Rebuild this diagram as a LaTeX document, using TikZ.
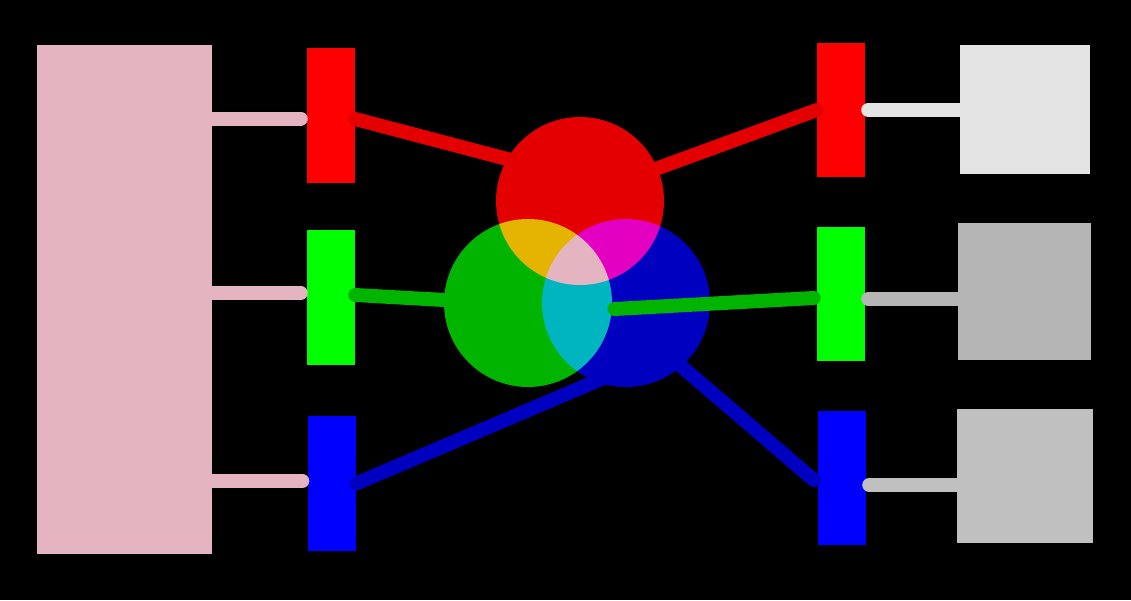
\documentclass[tikz,border=0pt]{standalone}
\usetikzlibrary{calc}
\definecolor{huered}{RGB}{228,0,0}
\definecolor{huegreen}{RGB}{0,180,0}
\definecolor{hueblue}{RGB}{0,0,192}
\definecolor{mixpink}{RGB}{228,180,192}
\definecolor{grayred}{RGB}{228,228,228}
\definecolor{graygreen}{RGB}{181,181,181}
\definecolor{grayblue}{RGB}{192,192,192}
\tikzset{
  slab/.style={
    inner sep=0pt,
    minimum width=48pt,
    minimum height=135pt
  },
  lens/.style={
    circle,
    inner sep=0pt,
    minimum size=168pt
  },
  link/.style={
    line width=14pt,
    line cap=round
  }
}
\begin{document}
\begin{tikzpicture}[x=1pt, y=-1pt]
  \fill[black] (0,0) rectangle (1131,600);
  \useasboundingbox (0,0) rectangle (1131,600);
  \node[fill=mixpink, inner sep=0pt, minimum width=175pt, minimum height=509pt] (source) at (124.5,299.5) {};
  \node[slab, fill=red] (inred) at (331,115.5) {};
  \node[slab, fill=green] (ingreen) at (331,297.5) {};
  \node[slab, fill=blue] (inblue) at (332,483.5) {};
  \node[slab, fill=red, minimum height=134pt] (outred) at (841,110) {};
  \node[slab, fill=green, minimum height=134pt] (outgreen) at (841,294) {};
  \node[slab, fill=blue, minimum height=134pt] (outblue) at (842,478) {};
  \node[fill=grayred, inner sep=0pt, minimum width=130pt, minimum height=129pt] (shadered) at (1025,109.5) {};
  \node[fill=graygreen, inner sep=0pt, minimum width=133pt, minimum height=137pt] (shadegreen) at (1024.5,291.5) {};
  \node[fill=grayblue, inner sep=0pt, minimum width=136pt, minimum height=134pt] (shadeblue) at (1025,476) {};
  \begin{scope}[blend group=lighten]
    \node[lens, fill=huered] (lensred) at (580,201) {};
    \node[lens, fill=huegreen] (lensgreen) at (528,303) {};
    \node[lens, fill=hueblue] (lensblue) at (626,303) {};
  \end{scope}
  \coordinate (rin) at (530,165);
  \coordinate (rout) at (620,182);
  \coordinate (gin) at (480,302);
  \coordinate (gout) at (614.5,309);
  \coordinate (bin) at (606,377);
  \coordinate (bout) at (660,348);
  \coordinate (s1) at ([xshift=-6pt,yshift=-3pt]inred.west);
  \coordinate (s2) at ([xshift=-6pt,yshift=4.5pt]ingreen.west);
  \coordinate (s3) at ([xshift=-5.5pt,yshift=2.5pt]inblue.west);
  \coordinate (t1) at ([xshift=3pt]outred.east);
  \coordinate (t2) at ([xshift=3pt,yshift=-5pt]outgreen.east);
  \coordinate (t3) at ([xshift=3pt,yshift=-7pt]outblue.east);
  \draw[link, mixpink] (s1 -| source.east) -- (s1);
  \draw[link, mixpink] (s2 -| source.east) -- (s2);
  \draw[link, mixpink] (s3 -| source.east) -- (s3);
  \draw[link, huered] ([yshift=-3.5pt]inred.east) -- (rin);
  \draw[link, huered] (rout) -- (outred.west);
  \draw[link, huegreen] ([yshift=2.5pt]ingreen.east) -- (gin);
  \draw[link, huegreen] (gout) -- ([xshift=-3pt,yshift=-4pt]outgreen.west);
  \draw[link, hueblue] (inblue.east) -- (bin);
  \draw[link, hueblue] (bout) -- ([xshift=-4pt,yshift=-2pt]outblue.west);
  \draw[link, grayred] (t1) -- (t1 -| shadered.west);
  \draw[link, graygreen] (t2) -- (t2 -| shadegreen.west);
  \draw[link, grayblue] (t3) -- (t3 -| shadeblue.west);
\end{tikzpicture}
\end{document}
